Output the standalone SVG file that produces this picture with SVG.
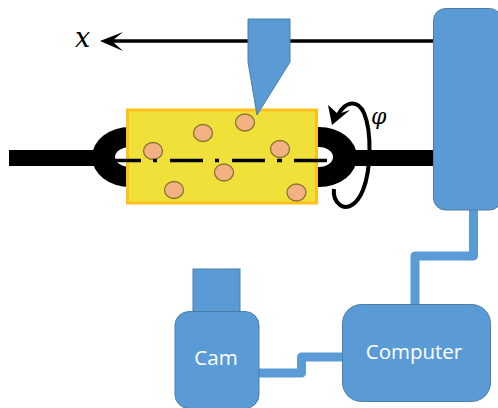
<svg xmlns="http://www.w3.org/2000/svg" width="498" height="408" viewBox="0 0 498 408">
<defs>
<style>
.blue{fill:#5b9bd5;stroke:#4a7ea8;stroke-width:1}
.wire{fill:none;stroke:#5b9bd5;stroke-width:9;stroke-linejoin:round}
.bead{fill:#f4b183;stroke:#8a7430;stroke-width:1.300}
.lbl{fill:#fff;font-family:"Open Sans","DejaVu Sans",sans-serif;font-size:20.500px;text-anchor:middle}
.math{fill:#000;font-family:"DejaVu Serif","Liberation Serif",serif;font-style:italic}
</style>
</defs>
<g id="connectors">
<path d="M110 41H434" stroke="#000" stroke-width="3.500" fill="none"/>
<path d="M100 41L123 32L112 41L123 51Z" fill="#000"/>
<path class="wire" d="M473.500 208V256H415V306"/>
<path class="wire" d="M258 373H301.500V357H344"/>
</g>
<g id="rod">
<rect x="9" y="150" width="100" height="16" fill="#000"/>
<rect x="340" y="150" width="96" height="16" fill="#000"/>
<ellipse cx="130" cy="157" rx="38" ry="30" fill="#000"/>
<ellipse cx="130" cy="157" rx="15" ry="10" fill="#fff"/>
<ellipse cx="319" cy="157" rx="38" ry="30" fill="#000"/>
<ellipse cx="319" cy="157" rx="14" ry="10" fill="#fff"/>
</g>
<g id="sample">
<rect x="127.500" y="110" width="189" height="93" fill="#f0e13a" stroke="#fdc01e" stroke-width="3"/>
<ellipse class="bead" cx="153" cy="151" rx="9.500" ry="8.500"/>
<ellipse class="bead" cx="203" cy="133" rx="9.500" ry="8.500"/>
<ellipse class="bead" cx="245" cy="122.500" rx="9.500" ry="8.500"/>
<ellipse class="bead" cx="280" cy="149" rx="9.500" ry="8.500"/>
<ellipse class="bead" cx="224" cy="172.500" rx="9.500" ry="8.500"/>
<ellipse class="bead" cx="174" cy="190" rx="9.500" ry="8.500"/>
<ellipse class="bead" cx="296.500" cy="192.500" rx="9.500" ry="8.500"/>
</g>
<g id="axis">
<path d="M115 160.500H141M153 160.500H157M170 160.500H203M215 160.500H219M232 160.500H265M277 160.500H282M294 160.500H327" stroke="#000" stroke-width="3.500" fill="none"/>
</g>
<g id="rotation">
<path d="M338 115C346 100 358 100 364 113C372 132 371 170 363 190C357 205 347 210 340 205C335 201 333 196 334 189" fill="none" stroke="#000" stroke-width="4"/>
<path d="M328 105L332 125L350 110L338 114Z" fill="#000"/>
<text class="math" x="371" y="124" font-size="22">φ</text>
</g>
<g id="x-label"><text class="math" x="75" y="47" font-size="27">x</text></g>
<g id="stage"><rect class="blue" x="433.500" y="8.500" width="68" height="201.500" rx="12"/></g>
<g id="tip"><path class="blue" d="M248 19H290V62L257 115L248 62Z"/></g>
<g id="camera">
<rect class="blue" x="193" y="269" width="47" height="43"/>
<rect class="blue" x="175" y="311.500" width="84" height="97" rx="14"/>
<text class="lbl" x="216" y="365">Cam</text>
</g>
<g id="computer">
<rect class="blue" x="342.500" y="304.500" width="148" height="97" rx="19"/>
<text class="lbl" x="414" y="359">Computer</text>
</g>
</svg>
